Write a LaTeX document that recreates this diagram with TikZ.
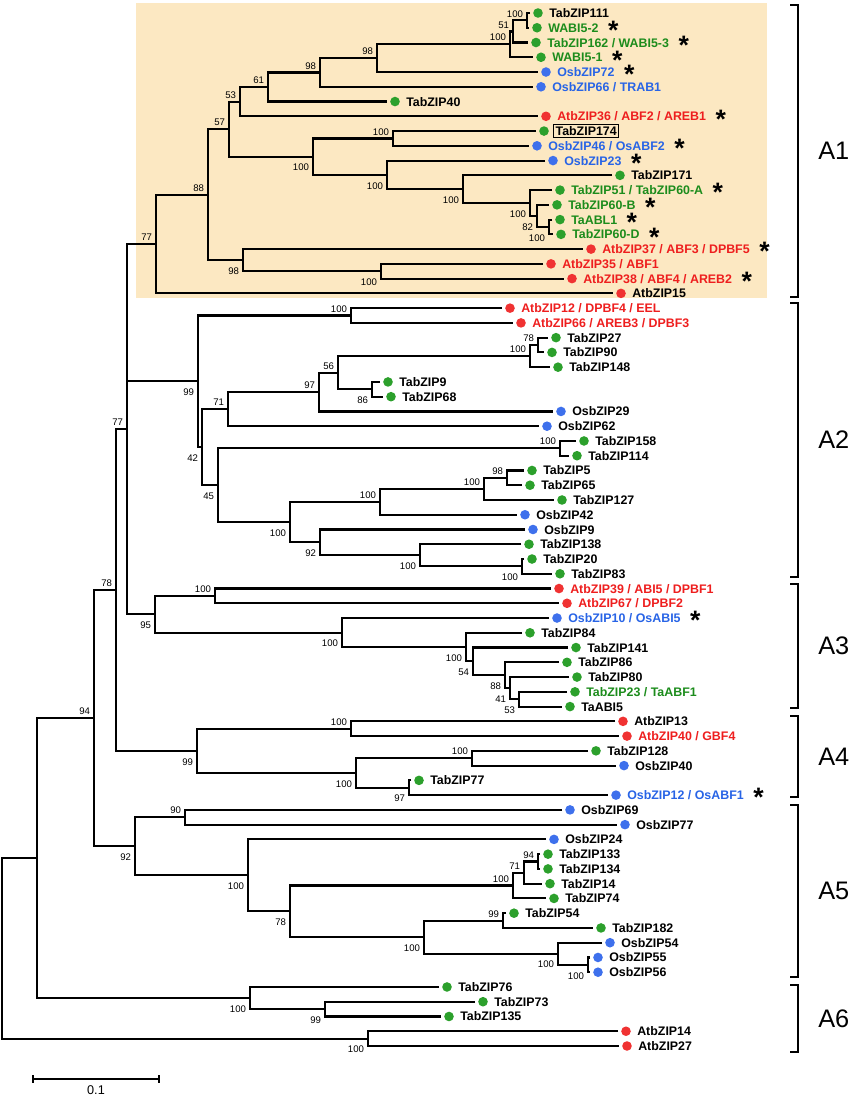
\documentclass[tikz,border=0pt]{standalone}
\usepackage{fontspec}
\setmainfont{Liberation Sans}
\usetikzlibrary{calc}
\definecolor{hl}{RGB}{252,232,194}
\definecolor{dg}{RGB}{44,160,44}
\definecolor{db}{RGB}{62,112,236}
\definecolor{dr}{RGB}{240,50,50}
\definecolor{tg}{RGB}{28,140,28}
\definecolor{tb}{RGB}{40,100,230}
\definecolor{tr}{RGB}{238,30,30}
\tikzset{
  br/.style={line width=1.6pt, line join=miter, line cap=butt},
  brk/.style={line width=1.6pt, line join=miter},
  leafdot/.style={circle, inner sep=0pt, minimum size=7.2pt, draw=none},
  leaflab/.style={anchor=base west, inner sep=0pt, font=\fontsize{9.3pt}{9.3pt}\selectfont\bfseries},
  astk/.style={anchor=base west, inner sep=0pt, font=\fontsize{20pt}{20pt}\selectfont\bfseries},
  bsa/.style={anchor=south east, inner sep=0pt, xshift=-2.85pt, yshift=2.25pt, font=\fontsize{7.2pt}{7.2pt}\selectfont},
  bsb/.style={anchor=north east, inner sep=0pt, xshift=-2.85pt, yshift=-5.4pt, font=\fontsize{7.2pt}{7.2pt}\selectfont},
  clab/.style={anchor=west, inner sep=0pt, font=\fontsize{19pt}{19pt}\selectfont},
}
% leaf: #1 id, #2 index, #3 dot x, #4 dot colour, #5 text colour, #6 text, #7 0 plain / 1 star / 2 boxed
\newcommand\lf[7]{%
  \pgfmathsetmacro\yy{13+(#2-1)*14.757}%
  \coordinate (#1) at ({#3-8},\yy);%
  \node[leafdot,fill=#4] (#1d) at (#3,\yy) {};%
  \ifnum#7=2
    \node[leaflab,draw,line width=0.7pt,inner sep=1.6pt,fill=hl,text=#5] (#1t) at ({#3+9},{\yy+4.5}) {#6};%
  \else
    \node[leaflab,text=#5] (#1t) at ({#3+11},{\yy+4.5}) {#6};%
  \fi
  \ifnum#7=1
    \node[astk] (#1s) at ($(#1t.base east)+(9,7.3)$) {\smash{*}};%
  \fi
}
% internal node: #1 id, #2 x, #3 #4 children, #5 support, #6 label style
\newcommand\nd[6]{%
  \path ($(#3)!0.5!(#4)$) coordinate (#1m);%
  \coordinate (#1) at (#2,0 |- #1m);%
  \draw[br] (#3) -| (#1) |- (#4);%
  \node[#6] (#1L) at (#1) {#5};%
}
\newcommand\ndx[4]{%
  \path ($(#3)!0.5!(#4)$) coordinate (#1m);%
  \coordinate (#1) at (#2,0 |- #1m);%
  \draw[br] (#3) -| (#1) |- (#4);%
}
\begin{document}
\begin{tikzpicture}[x=0.75pt,y=-0.75pt]
\useasboundingbox (0,0) rectangle (851,1096);
\fill[hl] (136,3) rectangle (767,298);
% ---------- leaves ----------
\lf{l1}{1}{538}{dg}{black}{TabZIP111}{0}
\lf{l2}{2}{537}{dg}{tg}{WABI5-2}{1}
\lf{l3}{3}{536}{dg}{tg}{TabZIP162 / WABI5-3}{1}
\lf{l4}{4}{541}{dg}{tg}{WABI5-1}{1}
\lf{l5}{5}{546}{db}{tb}{OsbZIP72}{1}
\lf{l6}{6}{541}{db}{tb}{OsbZIP66 / TRAB1}{0}
\lf{l7}{7}{395}{dg}{black}{TabZIP40}{0}
\lf{l8}{8}{546}{dr}{tr}{AtbZIP36 / ABF2 / AREB1}{1}
\lf{l9}{9}{544}{dg}{black}{TabZIP174}{2}
\lf{l10}{10}{537}{db}{tb}{OsbZIP46 / OsABF2}{1}
\lf{l11}{11}{553}{db}{tb}{OsbZIP23}{1}
\lf{l12}{12}{620}{dg}{black}{TabZIP171}{0}
\lf{l13}{13}{560}{dg}{tg}{TabZIP51 / TabZIP60-A}{1}
\lf{l14}{14}{557}{dg}{tg}{TabZIP60-B}{1}
\lf{l15}{15}{560}{dg}{tg}{TaABL1}{1}
\lf{l16}{16}{561}{dg}{tg}{TabZIP60-D}{1}
\lf{l17}{17}{591}{dr}{tr}{AtbZIP37 / ABF3 / DPBF5}{1}
\lf{l18}{18}{551}{dr}{tr}{AtbZIP35 / ABF1}{0}
\lf{l19}{19}{572}{dr}{tr}{AtbZIP38 / ABF4 / AREB2}{1}
\lf{l20}{20}{621}{dr}{black}{AtbZIP15}{0}
\lf{l21}{21}{510}{dr}{tr}{AtbZIP12 / DPBF4 / EEL}{0}
\lf{l22}{22}{521}{dr}{tr}{AtbZIP66 / AREB3 / DPBF3}{0}
\lf{l23}{23}{556}{dg}{black}{TabZIP27}{0}
\lf{l24}{24}{552}{dg}{black}{TabZIP90}{0}
\lf{l25}{25}{558}{dg}{black}{TabZIP148}{0}
\lf{l26}{26}{388}{dg}{black}{TabZIP9}{0}
\lf{l27}{27}{391}{dg}{black}{TabZIP68}{0}
\lf{l28}{28}{561}{db}{black}{OsbZIP29}{0}
\lf{l29}{29}{547}{db}{black}{OsbZIP62}{0}
\lf{l30}{30}{584}{dg}{black}{TabZIP158}{0}
\lf{l31}{31}{577}{dg}{black}{TabZIP114}{0}
\lf{l32}{32}{532}{dg}{black}{TabZIP5}{0}
\lf{l33}{33}{530}{dg}{black}{TabZIP65}{0}
\lf{l34}{34}{562}{dg}{black}{TabZIP127}{0}
\lf{l35}{35}{525}{db}{black}{OsbZIP42}{0}
\lf{l36}{36}{533}{db}{black}{OsbZIP9}{0}
\lf{l37}{37}{529}{dg}{black}{TabZIP138}{0}
\lf{l38}{38}{532}{dg}{black}{TabZIP20}{0}
\lf{l39}{39}{560}{dg}{black}{TabZIP83}{0}
\lf{l40}{40}{559}{dr}{tr}{AtbZIP39 / ABI5 / DPBF1}{0}
\lf{l41}{41}{567}{dr}{tr}{AtbZIP67 / DPBF2}{0}
\lf{l42}{42}{557}{db}{tb}{OsbZIP10 / OsABI5}{1}
\lf{l43}{43}{530}{dg}{black}{TabZIP84}{0}
\lf{l44}{44}{576}{dg}{black}{TabZIP141}{0}
\lf{l45}{45}{567}{dg}{black}{TabZIP86}{0}
\lf{l46}{46}{577}{dg}{black}{TabZIP80}{0}
\lf{l47}{47}{575}{dg}{tg}{TabZIP23 / TaABF1}{0}
\lf{l48}{48}{570}{dg}{black}{TaABI5}{0}
\lf{l49}{49}{623}{dr}{black}{AtbZIP13}{0}
\lf{l50}{50}{627}{dr}{tr}{AtbZIP40 / GBF4}{0}
\lf{l51}{51}{596}{dg}{black}{TabZIP128}{0}
\lf{l52}{52}{624}{db}{black}{OsbZIP40}{0}
\lf{l53}{53}{419}{dg}{black}{TabZIP77}{0}
\lf{l54}{54}{616}{db}{tb}{OsbZIP12 / OsABF1}{1}
\lf{l55}{55}{570}{db}{black}{OsbZIP69}{0}
\lf{l56}{56}{625}{db}{black}{OsbZIP77}{0}
\lf{l57}{57}{554}{db}{black}{OsbZIP24}{0}
\lf{l58}{58}{548}{dg}{black}{TabZIP133}{0}
\lf{l59}{59}{548}{dg}{black}{TabZIP134}{0}
\lf{l60}{60}{550}{dg}{black}{TabZIP14}{0}
\lf{l61}{61}{554}{dg}{black}{TabZIP74}{0}
\lf{l62}{62}{514}{dg}{black}{TabZIP54}{0}
\lf{l63}{63}{601}{dg}{black}{TabZIP182}{0}
\lf{l64}{64}{610}{db}{black}{OsbZIP54}{0}
\lf{l65}{65}{598}{db}{black}{OsbZIP55}{0}
\lf{l66}{66}{598}{db}{black}{OsbZIP56}{0}
\lf{l67}{67}{447}{dg}{black}{TabZIP76}{0}
\lf{l68}{68}{483}{dg}{black}{TabZIP73}{0}
\lf{l69}{69}{449}{dg}{black}{TabZIP135}{0}
\lf{l70}{70}{626}{dr}{black}{AtbZIP14}{0}
\lf{l71}{71}{627}{dr}{black}{AtbZIP27}{0}
% ---------- A1 ----------
\nd{a1}{527}{l1}{l2}{100}{bsa}
\nd{a2}{513}{a1}{l3}{51}{bsa}
\nd{a3}{510}{a2}{l4}{100}{bsa}
\nd{a4}{377}{a3}{l5}{98}{bsa}
\nd{a5}{320}{a4}{l6}{98}{bsa}
\nd{a6}{268}{a5}{l7}{61}{bsa}
\nd{a7}{240}{a6}{l8}{53}{bsa}
\nd{a8}{393}{l9}{l10}{100}{bsa}
\nd{a9}{549}{l15}{l16}{100}{bsb}
\nd{a10}{537}{l14}{a9}{82}{bsb}
\nd{a11}{530}{l13}{a10}{100}{bsb}
\nd{a12}{463}{l12}{a11}{100}{bsb}
\nd{a13}{387}{l11}{a12}{100}{bsb}
\nd{a14}{313}{a8}{a13}{100}{bsb}
\nd{a15}{229}{a7}{a14}{57}{bsa}
\nd{a16}{381}{l18}{l19}{100}{bsb}
\nd{a17}{243}{l17}{a16}{98}{bsb}
\nd{a18}{208}{a15}{a17}{88}{bsa}
\nd{a19}{156}{a18}{l20}{77}{bsa}
% ---------- A2 ----------
\nd{b1}{351}{l21}{l22}{100}{bsa}
\nd{b2}{538}{l23}{l24}{78}{bsa}
\nd{b3}{530}{b2}{l25}{100}{bsa}
\nd{b4}{372}{l26}{l27}{86}{bsb}
\nd{b5}{338}{b3}{b4}{56}{bsa}
\nd{b6}{319}{b5}{l28}{97}{bsa}
\nd{b7}{228}{b6}{l29}{71}{bsa}
\nd{b8}{560}{l30}{l31}{100}{bsa}
\nd{b9}{507}{l32}{l33}{98}{bsa}
\nd{b10}{484}{b9}{l34}{100}{bsa}
\nd{b11}{380}{b10}{l35}{100}{bsa}
\nd{b12}{522}{l38}{l39}{100}{bsb}
\nd{b13}{420}{l37}{b12}{100}{bsb}
\nd{b14}{320}{l36}{b13}{92}{bsb}
\nd{b15}{290}{b11}{b14}{100}{bsb}
\nd{b16}{218}{b8}{b15}{45}{bsb}
\nd{b17}{202}{b7}{b16}{42}{bsb}
\nd{b18}{198}{b1}{b17}{99}{bsb}
% ---------- A3 ----------
\nd{c1}{215}{l40}{l41}{100}{bsa}
\nd{c2}{519}{l47}{l48}{53}{bsb}
\nd{c3}{510}{l46}{c2}{41}{bsb}
\nd{c4}{505}{l45}{c3}{88}{bsb}
\nd{c5}{473}{l44}{c4}{54}{bsb}
\nd{c6}{466}{l43}{c5}{100}{bsb}
\nd{c7}{342}{l42}{c6}{100}{bsb}
\nd{c8}{155}{c1}{c7}{95}{bsb}
% polytomy A1 / A2 / A3
\nd{p1}{127}{a19}{c8}{77}{bsa}
\draw[br] (b18) -| (p1);
% ---------- A4 ----------
\nd{d1}{351}{l49}{l50}{100}{bsa}
\nd{d2}{472}{l51}{l52}{100}{bsa}
\nd{d3}{409}{l53}{l54}{97}{bsb}
\nd{d4}{356}{d2}{d3}{100}{bsb}
\nd{d5}{197}{d1}{d4}{99}{bsb}
\nd{p2}{116}{p1}{d5}{78}{bsa}
% ---------- A5 ----------
\nd{e1}{185}{l55}{l56}{90}{bsa}
\nd{e2}{538}{l58}{l59}{94}{bsa}
\nd{e3}{524}{e2}{l60}{71}{bsa}
\nd{e4}{513}{e3}{l61}{100}{bsa}
\nd{e5}{503}{l62}{l63}{99}{bsa}
\nd{e6}{588}{l65}{l66}{100}{bsb}
\nd{e7}{558}{l64}{e6}{100}{bsb}
\nd{e8}{424}{e5}{e7}{100}{bsb}
\nd{e9}{290}{e4}{e8}{78}{bsb}
\nd{e10}{248}{l57}{e9}{100}{bsb}
\nd{e11}{135}{e1}{e10}{92}{bsb}
\nd{p3}{94}{p2}{e11}{94}{bsa}
% ---------- A6 ----------
\nd{f1}{325}{l68}{l69}{99}{bsb}
\nd{f2}{250}{l67}{f1}{100}{bsb}
\ndx{p4}{37}{p3}{f2}
\nd{f3}{368}{l70}{l71}{100}{bsb}
\ndx{root}{2}{p4}{f3}
% ---------- clade brackets ----------
\foreach \t/\b/\n in {5/297/A1,303/577/A2,584/708/A3,716/797/A4,805/977/A5,985/1052/A6}{
  \draw[brk] (790,\t) -- (798,\t) -- (798,\b) -- (790,\b);
  \node[clab] (lab\n) at (818,{(\t+\b)/2}) {\n};
}
% ---------- scale bar ----------
\coordinate (sbL) at (33,1079);
\coordinate (sbR) at (159,1079);
\draw[line width=1.5pt] (sbL) -- (sbR);
\draw[line width=1.5pt] (33,1075) -- (33,1083);
\draw[line width=1.5pt] (159,1075) -- (159,1083);
\node[inner sep=0pt, font=\fontsize{9.5pt}{9.5pt}\selectfont] (sbt) at (96,1090) {0.1};
\end{tikzpicture}
\end{document}
